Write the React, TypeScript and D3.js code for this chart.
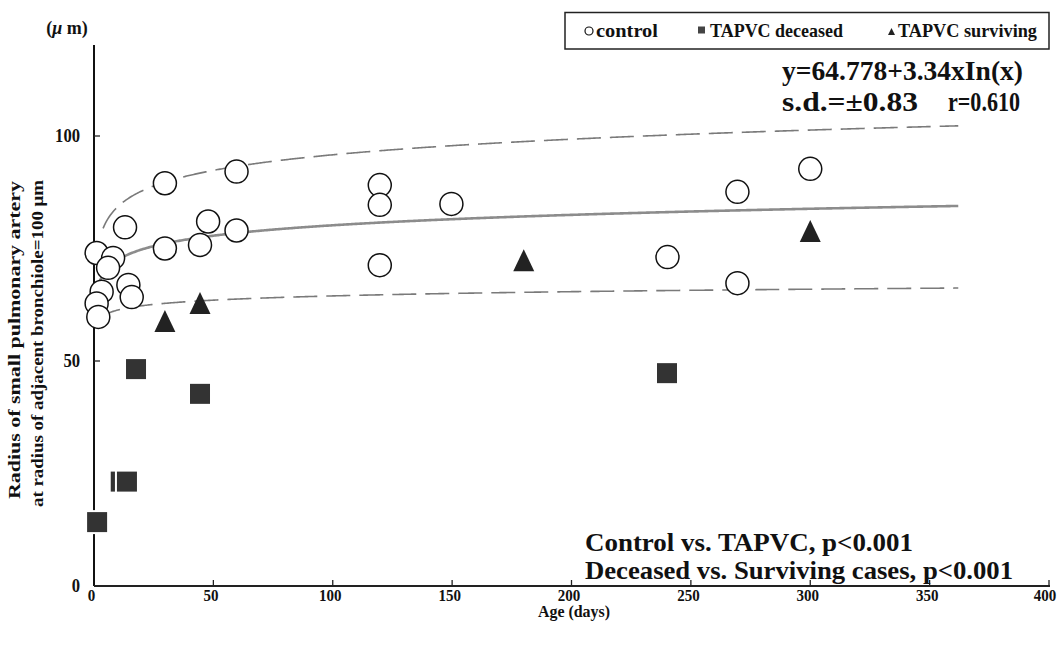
import React from 'react';
import * as d3 from 'd3';

// ---- data ----
const controlAge = [1.1, 8, 5.9, 3.2, 1.1, 1.8, 14.4, 15.8, 13, 29.7, 59.7, 47.8, 59.7, 29.7, 44.4, 119.7, 119.7, 119.7, 149.7, 240.2, 269.5, 269.5, 300];
const controlVal = [74, 72.9, 70.7, 65.4, 62.8, 59.8, 66.9, 64.2, 79.7, 89.5, 92.1, 81, 79, 75, 75.8, 89.1, 84.7, 71.3, 84.9, 73.1, 87.6, 67.3, 92.7];

const deceasedAge = [1.3, 11.2, 13.8, 17.6, 44.4, 240];
const deceasedVal = [14.2, 23.2, 23.2, 48.2, 42.7, 47.3];

const survivingAge = [29.7, 44.4, 180, 300];
const survivingVal = [58.9, 62.9, 72.4, 78.9];

const xTicks = [0, 50, 100, 150, 200, 250, 300, 350, 400];
const yTicks = [0, 50, 100];

// regression and the two dashed bounds: value = a + b * ln(age)
const fitMain = { a: 64.778, b: 3.34, from: 2, to: 362 };
const fitUpper = { a: 72.8, b: 5.0, from: 3.8, to: 362 };
const fitLower = { a: 58.2, b: 1.36, from: 2, to: 362 };

const FONT = "'Liberation Serif', 'Times New Roman', serif";

export default function App() {
  const x = d3.scaleLinear().domain([0, 400]).range([94, 1049]);
  const y = d3.scaleLinear().domain([0, 120]).range([586, 46]);

  const curve = (f: { a: number; b: number; from: number; to: number }) => {
    const pts = d3.range(f.from, f.to, 0.5).concat([f.to]);
    return d3
      .line<number>()
      .x((d) => x(d))
      .y((d) => y(f.a + f.b * Math.log(d)))(pts) as string;
  };

  const tri = (cx: number, cy: number, w: number, h: number) =>
    `M${cx},${cy - h / 2}L${cx + w / 2},${cy + h / 2}L${cx - w / 2},${cy + h / 2}Z`;

  const txt = (props: any, s: string) => (
    <text fontFamily={FONT} fontWeight="bold" fill="#111" lengthAdjust="spacingAndGlyphs" {...props}>
      {s}
    </text>
  );

  return (
    <svg width={1060} height={649} style={{ position: 'absolute', left: 0, top: 0, background: '#fff' }}>
      <rect x={0} y={0} width={1060} height={649} fill="#fff" />

      {/* axes */}
      <line x1={x(0)} x2={x(0)} y1={45} y2={y(0)} stroke="#111" strokeWidth={2} />
      <line x1={x(0)} x2={x(400) + 1} y1={y(0)} y2={y(0)} stroke="#222" strokeWidth={2} />
      {xTicks.filter((t) => t > 0).map((t) => (
        <line key={'xt' + t} x1={x(t)} x2={x(t)} y1={y(0)} y2={y(0) - 6} stroke="#222" strokeWidth={1.3} />
      ))}
      {yTicks.filter((t) => t > 0).map((t) => (
        <line key={'yt' + t} x1={x(0)} x2={x(0) + 6} y1={y(t)} y2={y(t)} stroke="#222" strokeWidth={1.3} />
      ))}
      {xTicks.map((t) =>
        txt({ key: 'xl' + t, x: Math.min(x(t) - 2.5, 1045), y: 601, fontSize: 17, textAnchor: 'middle', textLength: String(t).length * 7.5 }, String(t))
      )}
      {yTicks.map((t) =>
        txt({ key: 'yl' + t, x: 80, y: y(t) + 6, fontSize: 19, textAnchor: 'end', textLength: String(t).length * 8.3 }, String(t))
      )}

      {/* unit label */}
      <text x={67} y={34} fontFamily={FONT} fontWeight="bold" fontSize={18} textAnchor="middle" fill="#111">
        (<tspan fontStyle="italic">μ</tspan> m)
      </text>

      {/* axis titles */}
      {txt({ x: 574, y: 617, fontSize: 16, textAnchor: 'middle', textLength: 72 }, 'Age (days)')}
      {txt({ transform: 'translate(20,499) rotate(-90)', fontSize: 16, textLength: 318 }, 'Radius of small pulmonary artery')}
      {txt({ transform: 'translate(43,507) rotate(-90)', fontSize: 16, textLength: 327 }, 'at radius of adjacent bronchiole=100 μm')}

      {/* fit curves */}
      <path d={curve(fitUpper)} fill="none" stroke="#7a7a7a" strokeWidth={1.6} strokeDasharray="24 9" />
      <path d={curve(fitLower)} fill="none" stroke="#7a7a7a" strokeWidth={1.6} strokeDasharray="24 9" />
      <path d={curve(fitMain)} fill="none" stroke="#8c8c8c" strokeWidth={2.6} />

      {/* control circles */}
      {controlAge.map((a, i) => (
        <circle key={'c' + i} cx={x(a)} cy={y(controlVal[i])} r={11.5} fill="#fff" stroke="#111" strokeWidth={1.5} />
      ))}
      {/* deceased squares (white outline so overlapping squares and the axis show a gap) */}
      {deceasedAge.map((a, i) => (
        <rect key={'d' + i} x={x(a) - 10} y={y(deceasedVal[i]) - 10} width={20} height={20} fill="#333" stroke="#fff" strokeWidth={4} paintOrder="stroke" />
      ))}
      {/* surviving triangles */}
      {survivingAge.map((a, i) => (
        <path key={'s' + i} d={tri(x(a), y(survivingVal[i]), 21, 22)} fill="#222" />
      ))}

      {/* legend */}
      <rect x={565} y={12.5} width={484} height={36.5} fill="#fff" stroke="#222" strokeWidth={1.5} />
      <circle cx={589} cy={31} r={4} fill="#fff" stroke="#111" strokeWidth={1.2} />
      {txt({ x: 596, y: 37, fontSize: 19, textLength: 62 }, 'control')}
      <rect x={698} y={26.5} width={7} height={7} fill="#444" />
      {txt({ x: 710, y: 37, fontSize: 19, textLength: 133 }, 'TAPVC deceased')}
      <path d={tri(891.5, 31.5, 7, 7)} fill="#222" />
      {txt({ x: 898, y: 37, fontSize: 19, textLength: 139 }, 'TAPVC surviving')}

      {/* equation */}
      {txt({ x: 782, y: 80, fontSize: 27, textLength: 241 }, 'y=64.778+3.34xIn(x)')}
      {txt({ x: 782, y: 111, fontSize: 27, textLength: 136 }, 's.d.=±0.83')}
      {txt({ x: 948, y: 111, fontSize: 27, textLength: 72 }, 'r=0.610')}

      {/* statistics */}
      {txt({ x: 585, y: 551, fontSize: 25, textLength: 328 }, 'Control vs. TAPVC, p<0.001')}
      {txt({ x: 585, y: 579, fontSize: 25, textLength: 428 }, 'Deceased vs. Surviving cases, p<0.001')}
    </svg>
  );
}
